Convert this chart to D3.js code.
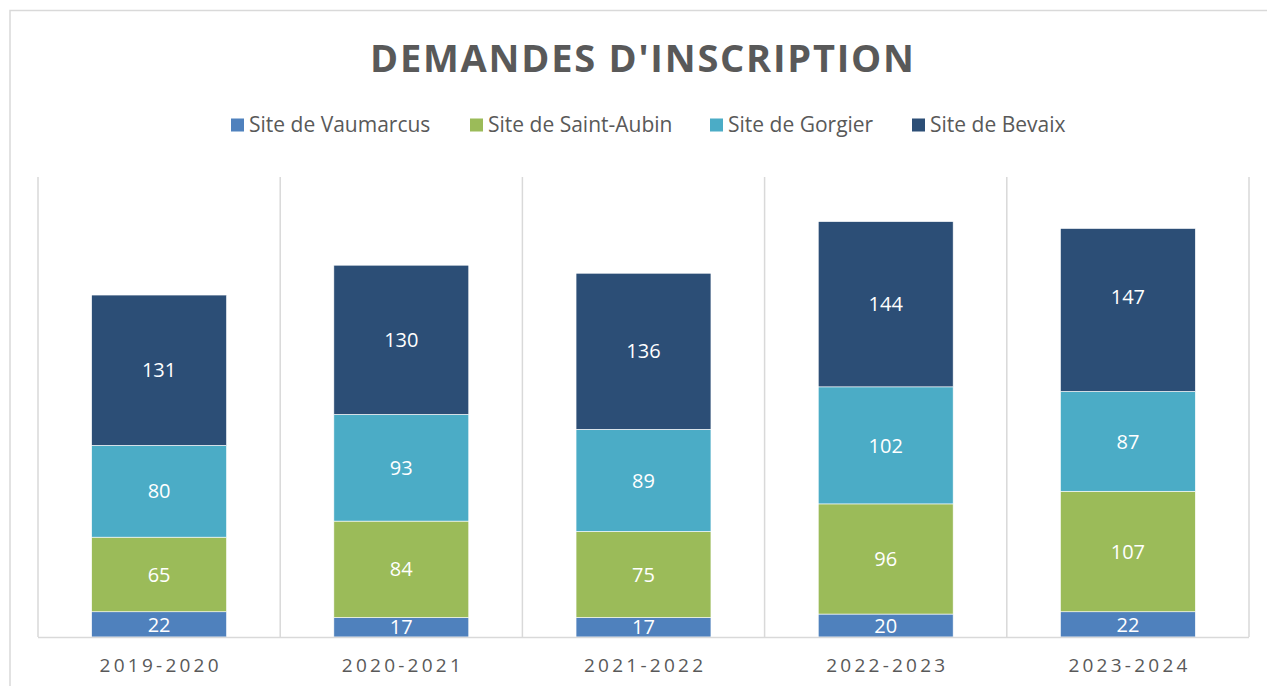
<!DOCTYPE html>
<html>
<head>
<meta charset="utf-8">
<script src="https://cdn.jsdelivr.net/npm/d3@7"></script>
<style>
  html, body { margin: 0; padding: 0; background: #fff; }
  svg { display: block; }
</style>
</head>
<body>
<svg id="chart" width="1267" height="686"></svg>
<script>
// ---- data ----
const categories = ["2019-2020", "2020-2021", "2021-2022", "2022-2023", "2023-2024"];
const seriesNames = ["Site de Vaumarcus", "Site de Saint-Aubin", "Site de Gorgier", "Site de Bevaix"];
// segment heights as drawn in the picture
const vaumarcus = [22, 17, 17, 20, 22];
const saintAubin = [65, 84, 75, 96, 105];
const gorgier = [80, 93, 89, 102, 87];
const bevaix = [131, 130, 136, 144, 142];
// data labels as printed in the picture
const vaumarcusLabels = [22, 17, 17, 20, 22];
const saintAubinLabels = [65, 84, 75, 96, 107];
const gorgierLabels = [80, 93, 89, 102, 87];
const bevaixLabels = [131, 130, 136, 144, 147];
const yMax = 400;
const title = "DEMANDES D'INSCRIPTION";

// ---- styles ----
const colors = ["#4f81bd", "#9bbb59", "#4bacc6", "#2c4e76"];
const font = "'Open Sans', 'Noto Sans', sans-serif";
const textGrey = "#595959";
const gridGrey = "#d9d9d9";
// manual label nudge (series index, category index) -> dy px, as in the picture
const labelNudge = { "3-4": -13 };

const svg = d3.select("#chart");

// outer frame (extends past the viewport on right and bottom)
svg.append("rect")
  .attr("x", 10).attr("y", 10.5)
  .attr("width", 1300).attr("height", 720)
  .attr("fill", "none").attr("stroke", gridGrey).attr("stroke-width", 1.5);

// title
svg.append("text")
  .attr("x", 642).attr("y", 72)
  .attr("text-anchor", "middle")
  .attr("font-family", font).attr("font-weight", "bold")
  .attr("font-size", 38).attr("fill", textGrey)
  .attr("textLength", 544).attr("lengthAdjust", "spacing")
  .text(title);

// scales
const plot = { left: 38, right: 1249, top: 178, bottom: 637 };
const x = d3.scaleBand().domain(categories).range([plot.left, plot.right]).padding(0);
const y = d3.scaleLinear().domain([0, yMax]).range([plot.bottom, plot.top]);
const barW = x.bandwidth() * 0.557;

// vertical gridlines at category boundaries
const bounds = categories.map(c => x(c)).concat([plot.right]);
svg.append("g").selectAll("line").data(bounds).join("line")
  .attr("x1", d => d).attr("x2", d => d)
  .attr("y1", plot.top - 1).attr("y2", plot.bottom)
  .attr("stroke", gridGrey).attr("stroke-width", 1.5);

// stack
const valueArrays = [vaumarcus, saintAubin, gorgier, bevaix];
const labelArrays = [vaumarcusLabels, saintAubinLabels, gorgierLabels, bevaixLabels];
const rows = categories.map((c, i) => {
  const r = { cat: c, idx: i };
  seriesNames.forEach((s, k) => { r[s] = valueArrays[k][i]; });
  return r;
});
const stacked = d3.stack().keys(seriesNames)(rows);

const layers = svg.append("g").selectAll("g").data(stacked).join("g")
  .attr("fill", (d, i) => colors[i]);

layers.selectAll("rect").data(d => d).join("rect")
  .attr("x", d => x(d.data.cat) + (x.bandwidth() - barW) / 2)
  .attr("width", barW)
  .attr("y", d => y(d[1]))
  .attr("height", d => y(d[0]) - y(d[1]))
  .attr("stroke", "#ffffff").attr("stroke-width", 0.6);

// data labels
const labels = svg.append("g");
stacked.forEach((layer, k) => {
  layer.forEach(d => {
    const nudge = labelNudge[k + "-" + d.data.idx] || 0;
    labels.append("text")
      .attr("x", x(d.data.cat) + x.bandwidth() / 2)
      .attr("y", (y(d[0]) + y(d[1])) / 2 + nudge)
      .attr("dy", "0.36em")
      .attr("text-anchor", "middle")
      .attr("font-family", font).attr("font-size", 20)
      .attr("fill", "#ffffff")
      .text(labelArrays[k][d.data.idx]);
  });
});

// x axis line
svg.append("line")
  .attr("x1", plot.left).attr("x2", plot.right)
  .attr("y1", plot.bottom + 0.5).attr("y2", plot.bottom + 0.5)
  .attr("stroke", gridGrey).attr("stroke-width", 1.5);

// x axis labels
svg.append("g").selectAll("text").data(categories).join("text")
  .attr("x", d => x(d) + x.bandwidth() / 2)
  .attr("y", 672)
  .attr("text-anchor", "middle")
  .attr("font-family", font).attr("font-size", 19)
  .attr("fill", textGrey)
  .attr("textLength", 119).attr("lengthAdjust", "spacing")
  .text(d => d);

// legend
const legendX = [231, 470, 710, 912];
const legend = svg.append("g").selectAll("g").data(seriesNames).join("g")
  .attr("transform", (d, i) => `translate(${legendX[i]},125)`);
legend.append("rect")
  .attr("x", 0).attr("y", -6.5).attr("width", 13).attr("height", 13)
  .attr("fill", (d, i) => colors[i]);
legend.append("text")
  .attr("x", 18).attr("y", 0).attr("dy", "0.35em")
  .attr("font-family", font).attr("font-size", 21)
  .attr("fill", textGrey)
  .text(d => d);
</script>
</body>
</html>
